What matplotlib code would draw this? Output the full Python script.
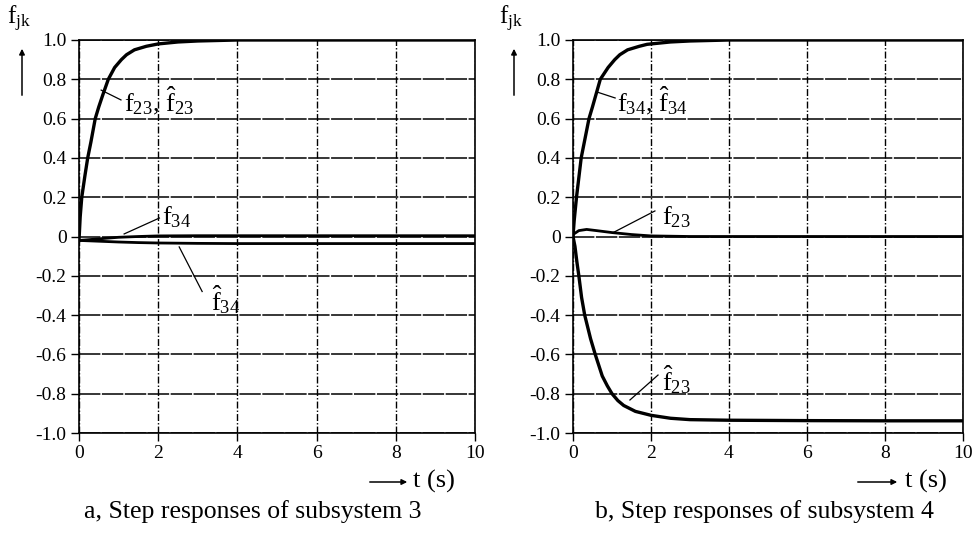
import matplotlib
matplotlib.use("Agg")
import matplotlib.pyplot as plt
import matplotlib.patches as mpatches

plt.rcParams['font.family'] = ['Liberation Serif', 'DejaVu Serif']
plt.rcParams['mathtext.fontset'] = 'custom'
plt.rcParams['mathtext.rm'] = 'Liberation Serif'
plt.rcParams['mathtext.it'] = 'Liberation Serif:italic'

# ---- data ----
x_ticks = [0, 2, 4, 6, 8, 10]
y_ticks = [1.0, 0.8, 0.6, 0.4, 0.2, 0.0, -0.2, -0.4, -0.6, -0.8, -1.0]
y_tick_labels = ["1.0", "0.8", "0.6", "0.4", "0.2", "0", "-0.2", "-0.4", "-0.6", "-0.8", "-1.0"]

# subsystem 3
t_a_main = [0, 0.03, 0.07, 0.15, 0.22, 0.3, 0.41, 0.5, 0.6, 0.74, 0.9, 1.07, 1.2, 1.4, 1.7, 2.0, 2.5, 3.0, 4.0, 6.0, 8.0, 10.0]
f23_a = [-0.02, 0.10, 0.20, 0.31, 0.40, 0.48, 0.60, 0.66, 0.72, 0.80, 0.86, 0.90, 0.925, 0.95, 0.968, 0.98, 0.99, 0.995, 1.0, 1.0, 1.0, 1.0]
t_a_small = [0, 0.5, 1.0, 1.5, 2.0, 3.0, 4.0, 6.0, 8.0, 10.0]
f34_a = [-0.02, -0.012, -0.004, 0.0, 0.003, 0.004, 0.004, 0.004, 0.004, 0.004]
f34hat_a = [-0.02, -0.024, -0.028, -0.031, -0.033, -0.035, -0.036, -0.036, -0.036, -0.036]

# subsystem 4
t_b_main = [0, 0.03, 0.09, 0.15, 0.21, 0.3, 0.41, 0.5, 0.6, 0.7, 0.9, 1.07, 1.2, 1.4, 1.7, 1.9, 2.5, 3.0, 4.0, 6.0, 8.0, 10.0]
f34_b = [0.0, 0.08, 0.20, 0.30, 0.40, 0.49, 0.60, 0.66, 0.73, 0.80, 0.86, 0.90, 0.925, 0.95, 0.968, 0.978, 0.99, 0.995, 1.0, 1.0, 1.0, 1.0]
t_b_f23 = [0, 0.15, 0.35, 0.6, 1.0, 1.5, 2.0, 3.0, 4.0, 6.0, 8.0, 10.0]
f23_b = [0.01, 0.03, 0.036, 0.03, 0.02, 0.01, 0.003, 0.0, 0.0, 0.0, 0.0, 0.0]
t_b_hat = [0, 0.05, 0.1, 0.15, 0.22, 0.3, 0.45, 0.57, 0.75, 0.88, 1.0, 1.15, 1.3, 1.6, 2.0, 2.5, 3.0, 4.0, 6.0, 8.0, 10.0]
f23hat_b = [0.0, -0.05, -0.13, -0.20, -0.31, -0.40, -0.52, -0.60, -0.71, -0.76, -0.80, -0.835, -0.86, -0.89, -0.91, -0.925, -0.932, -0.935, -0.937, -0.938, -0.938]

fig = plt.figure(figsize=(9.76, 5.34), dpi=100)
ax_a = fig.add_axes([79/976, 1-433/534, 396/976, 393/534])
ax_b = fig.add_axes([573/976, 1-433/534, 390/976, 393/534])

FS = 14

def style(ax):
    ax.set_xlim(0, 10)
    ax.set_ylim(-1.0, 1.0)
    ax.set_xticks(x_ticks)
    ax.set_xticklabels([str(v) for v in x_ticks], fontsize=FS)
    ax.set_yticks(y_ticks)
    ax.set_yticklabels(y_tick_labels, fontsize=FS)
    ax.tick_params(direction='out', length=6, width=1, color='black', pad=3)
    ax.xaxis.grid(True, color='black', linewidth=1.0, linestyle=(0, (5, 1.5, 1, 1.5)))
    ax.yaxis.grid(True, color='black', linewidth=1.1, linestyle=(0, (14, 1)))
    for s in ax.spines.values():
        s.set_linewidth(1.2)
        s.set_color('black')
    ax.set_axisbelow(True)

style(ax_a)
style(ax_b)

lw = 2.4
ax_a.plot(t_a_main, f23_a, color='black', lw=lw, solid_joinstyle='round')
ax_a.plot(t_a_small, f34_a, color='black', lw=2.0)
ax_a.plot(t_a_small, f34hat_a, color='black', lw=2.0)

ax_b.plot(t_b_main, f34_b, color='black', lw=lw, solid_joinstyle='round')
ax_b.plot(t_b_f23, f23_b, color='black', lw=2.0)
ax_b.plot(t_b_hat, f23hat_b, color='black', lw=lw, solid_joinstyle='round')

LFS = 19
def label(ax, xy_from, xy_to, txt_xy, txt):
    ax.plot([xy_from[0], xy_to[0]], [xy_from[1], xy_to[1]], color='black', lw=0.9)
    ax.text(txt_xy[0], txt_xy[1], txt, fontsize=LFS, ha='left', va='center')

label(ax_a, (0.56, 0.745), (1.06, 0.695), (1.14, 0.69), r"$\mathrm{f}_{23}$, $\hat{\mathrm{f}}_{23}$")
label(ax_a, (1.14, 0.013), (2.03, 0.094), (2.1, 0.10), r"$\mathrm{f}_{34}$")
label(ax_a, (2.53, -0.053), (3.11, -0.28), (3.34, -0.32), r"$\hat{\mathrm{f}}_{34}$")

label(ax_b, (0.62, 0.735), (1.08, 0.705), (1.13, 0.69), r"$\mathrm{f}_{34}$, $\hat{\mathrm{f}}_{34}$")
label(ax_b, (1.03, 0.02), (2.1, 0.13), (2.28, 0.10), r"$\mathrm{f}_{23}$")
label(ax_b, (1.46, -0.832), (2.18, -0.705), (2.28, -0.73), r"$\hat{\mathrm{f}}_{23}$")

# y labels with arrows
for xpx in (22, 514):
    fig.text((xpx - 3)/976, 1 - 19/534, r"$\mathrm{f}_{\mathrm{jk}}$", fontsize=18, ha='center', va='center')
    fig.add_artist(mpatches.FancyArrowPatch(
        (xpx/976, 1 - 98/534), (xpx/976, 1 - 46/534),
        transform=fig.transFigure, arrowstyle='-|>', mutation_scale=8, color='black', lw=1.1))

# x labels with arrows
for (x0, x1, xt) in ((367, 410, 413), (855, 900, 905)):
    fig.add_artist(mpatches.FancyArrowPatch(
        (x0/976, 1 - 482/534), (x1/976, 1 - 482/534),
        transform=fig.transFigure, arrowstyle='-|>', mutation_scale=8, color='black', lw=1.1))
    fig.text(xt/976, 1 - 481/534, "t (s)", fontsize=19, ha='left', va='center')

fig.text(253/976, 1 - 512/534, "a, Step responses of subsystem 3", fontsize=18.5, ha='center', va='center')
fig.text(764/976, 1 - 512/534, "b, Step responses of subsystem 4", fontsize=18.5, ha='center', va='center')

fig.savefig("out.png", dpi=100)
